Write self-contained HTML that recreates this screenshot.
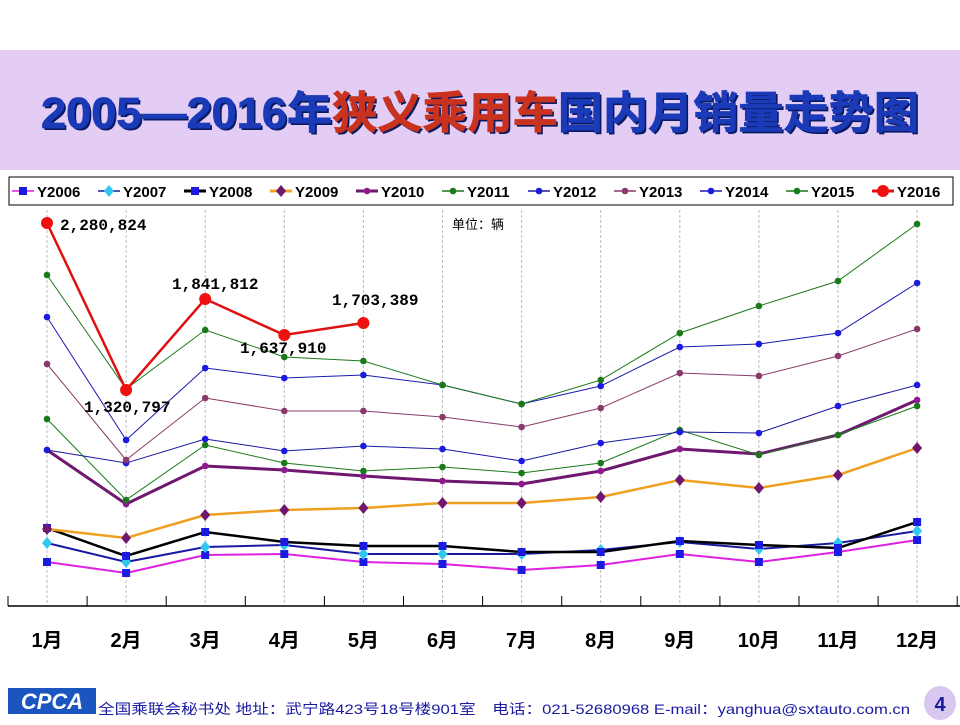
<!DOCTYPE html>
<html><head><meta charset="utf-8"><style>
body{margin:0;width:960px;height:720px;background:#fff;overflow:hidden;font-family:"Liberation Sans","Noto Sans CJK SC",sans-serif;}
</style></head><body>
<svg id="s" width="960" height="720" xmlns="http://www.w3.org/2000/svg">
<rect x="0" y="50" width="960" height="120" fill="#e3cdf5"/>
<text x="482" y="130" text-anchor="middle" font-size="44" font-weight="bold" fill="#0a1a60" font-family="Liberation Sans,Noto Sans CJK SC,sans-serif" textLength="878" lengthAdjust="spacingAndGlyphs">2005—2016年狭义乘用车国内月销量走势图</text>
<text x="480" y="128" text-anchor="middle" font-size="44" font-weight="bold" fill="#1a3ab8" stroke="#1a3ab8" stroke-width="0.8" font-family="Liberation Sans,Noto Sans CJK SC,sans-serif" textLength="878" lengthAdjust="spacingAndGlyphs">2005—2016年<tspan fill="#c8321e" stroke="#c8321e">狭义乘用车</tspan>国内月销量走势图</text>
<rect x="9" y="177" width="944" height="28" fill="#fff" stroke="#000" stroke-width="1"/>
<g id="leg"></g>
<g id="grid"></g>
<line x1="8" y1="606" x2="960" y2="606" stroke="#000" stroke-width="1.5"/>
<g id="ticks"></g>
<g id="series"></g>
<text x="452" y="229" font-size="13" fill="#000" font-family="Liberation Mono,Noto Sans CJK SC,monospace">单位：辆</text>
<g font-size="16" font-weight="bold" fill="#000" font-family="Liberation Mono,monospace">
<text x="60" y="230">2,280,824</text>
<text x="172" y="289">1,841,812</text>
<text x="240" y="353">1,637,910</text>
<text x="332" y="305">1,703,389</text>
<text x="84" y="412">1,320,797</text>
</g>
<g id="months" font-size="20" font-weight="bold" fill="#000"></g>
<rect x="8" y="688" width="88" height="26" fill="#1a55c0"/>
<text x="52" y="709" text-anchor="middle" font-size="22" font-style="italic" font-weight="bold" fill="#fff">CPCA</text>
<text x="98" y="714" font-size="14" fill="#1a1aa0" textLength="812" lengthAdjust="spacingAndGlyphs">全国乘联会秘书处 地址：武宁路423号18号楼901室　电话：021-52680968  E-mail：yanghua@sxtauto.com.cn</text>
<ellipse cx="940" cy="703" rx="16" ry="17" fill="#d8c8f0"/>
<text x="940" y="711" text-anchor="middle" font-size="20" font-weight="bold" fill="#1a1aa0">4</text>
</svg>
<script>
const NS="http://www.w3.org/2000/svg";
function el(t,a,p){const e=document.createElementNS(NS,t);for(const k in a)e.setAttribute(k,a[k]);document.getElementById(p).appendChild(e);return e;}
const X=i=>47+i*79.1;
for(let i=0;i<12;i++){el('line',{x1:X(i),y1:210,x2:X(i),y2:606,stroke:'#bbb','stroke-dasharray':'3,2','stroke-width':1},'grid');
const t=el('text',{x:X(i),y:647,'text-anchor':'middle'},'months');t.textContent=(i+1)+'月';}
for(let i=0;i<=12;i++){const x=8+i*79.1;el('line',{x1:x,y1:596,x2:x,y2:606,stroke:'#000'},'ticks');}
const S=[
["Y2006","#e020e0","#1a1ae0","sq",2,[562,573,555,554,562,564,570,565,554,562,552,540]],
["Y2007","#1a1aa0","#30c8f0","di",2,[543,562,547,545,554,554,554,550,542,549,543,531]],
["Y2008","#000","#1a1ae0","sq",2.5,[528,556,532,542,546,546,552,552,541,545,548,522]],
["Y2009","#f0a020","#701870","di",2.5,[529,538,515,510,508,503,503,497,480,488,475,448]],
["Y2010","#701870","#901890","ci",3,[450,504,466,470,476,481,484,471,449,454,435,400]],
["Y2011","#1a7a1a","#1a7a1a","ci",1,[419,500,445,463,471,467,473,463,430,455,435,406]],
["Y2012","#1a1aa0","#1a1ae0","ci",1,[450,463,439,451,446,449,461,443,432,433,406,385]],
["Y2013","#8a3a6a","#8a3a6a","ci",1,[364,460,398,411,411,417,427,408,373,376,356,329]],
["Y2014","#1a1ab0","#1a1ae0","ci",1,[317,440,368,378,375,385,404,386,347,344,333,283]],
["Y2015","#1a7a1a","#1a7a1a","ci",1,[275,389,330,357,361,385,404,380,333,306,281,224]],
["Y2016","#e01010","#f01010","big",2.5,[223,390,299,335,323]]];
function mk(type,x,y,c,p){
 if(type=="sq")el('rect',{x:x-4,y:y-4,width:8,height:8,fill:c},p);
 else if(type=="di")el('polygon',{points:`${x},${y-6} ${x+5},${y} ${x},${y+6} ${x-5},${y}`,fill:c},p);
 else if(type=="big")el('circle',{cx:x,cy:y,r:6,fill:c},p);
 else el('circle',{cx:x,cy:y,r:3.3,fill:c},p);}
S.forEach(s=>{const pts=s[5].map((y,i)=>X(i)+','+y).join(' ');
 el('polyline',{points:pts,fill:'none',stroke:s[1],'stroke-width':s[4]},'series');
 s[5].forEach((y,i)=>mk(s[3],X(i),y,s[2],'series'));});
const lx=[12,98,184,270,356,442,528,614,700,786,872];
S.forEach((s,i)=>{const x=lx[i];el('line',{x1:x,y1:191,x2:x+22,y2:191,stroke:s[1],'stroke-width':s[4]>2?3:1.5},'leg');
 mk(s[3]=="big"?"big":s[3],x+11,191,s[2],'leg');
 const t=el('text',{x:x+25,y:197,'font-size':15,'font-weight':'bold',fill:'#000'},'leg');t.textContent=s[0];});
</script>
</body></html>
